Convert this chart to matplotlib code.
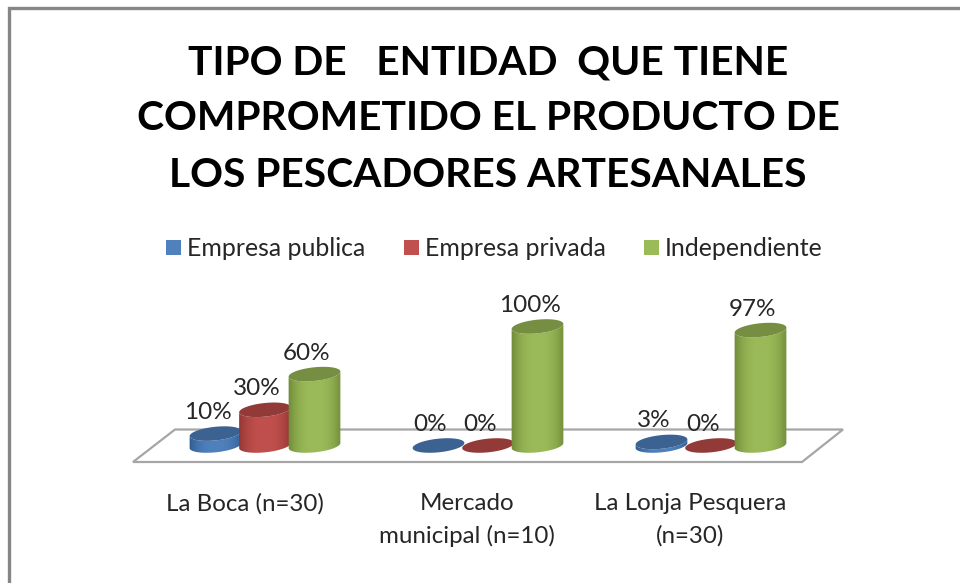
import matplotlib
matplotlib.use("Agg")
import matplotlib.pyplot as plt
from matplotlib.colors import to_rgb
from matplotlib.patches import Polygon, Rectangle
import numpy as np

plt.rcParams['font.family'] = ['Lato', 'DejaVu Sans']

title = "TIPO DE   ENTIDAD  QUE TIENE\nCOMPROMETIDO EL PRODUCTO DE\nLOS PESCADORES ARTESANALES"
categories = ["La Boca (n=30)", "Mercado\nmunicipal (n=10)", "La Lonja Pesquera\n(n=30)"]
series = ["Empresa publica", "Empresa privada", "Independiente"]
publica = [10, 0, 3]
privada = [30, 0, 0]
independiente = [60, 100, 97]
colors = ["#4f81bd", "#c0504d", "#9bbb59"]
tops = ["#3b6291", "#923a38", "#758e42"]
darks = ["#2f5a8f", "#8f3431", "#6f8a38"]

W, H = 960, 583
px_cat = 223   # pixels per category
px_val = 1.19  # pixels per percent
x0, y0 = 265, 445.5

fig = plt.figure(figsize=(W / 100, H / 100), dpi=100)
ax = fig.add_axes([0, 0, 1, 1])
ax.axis("off")


def px(x, y):
    # pixel position of the picture to data units
    return (x - x0) / px_cat, (y0 - y) / px_val


def ellipse(cx, v, t0=0, t1=2 * np.pi, a=26, b=6.8, tilt=6):
    t = np.linspace(t0, t1, 60)
    th = np.radians(tilt)
    ex = a * np.cos(t) * np.cos(th) + b * np.sin(t) * np.sin(th)
    ey = -a * np.cos(t) * np.sin(th) + b * np.sin(t) * np.cos(th)
    return np.c_[cx + ex / px_cat, v - ey / px_val]


# frame, open on the right
ax.plot(*zip(px(9.5, 583), px(9.5, 7.5), px(960, 7.5)), color="#868686", lw=2.4, solid_joinstyle="miter")

# floor
floor = [px(133, 462), px(175, 429.5), px(843, 429.5), px(802, 462)]
ax.add_patch(Polygon(floor, closed=True, fc="white", ec="#a6a6a6", lw=1.6, zorder=1))

dx = 49.5 / px_cat
for s, vals in enumerate([publica, privada, independiente]):
    for c, v in enumerate(vals):
        cx = c + (s - 1) * dx
        if v > 0:
            # side of the cylinder with a horizontal shade
            u = np.abs(np.linspace(-1, 1, 60))[None, :, None]
            grad = np.array(to_rgb(colors[s])) * (1 - u ** 2.5) + np.array(to_rgb(darks[s])) * u ** 2.5
            hw = 27 / px_cat
            im = ax.imshow(grad, extent=[cx - hw, cx + hw, -12, v + 8], aspect="auto", zorder=3 + s,
                           interpolation="bilinear")
            lower = ellipse(cx, 0, 0, np.pi)
            clip = Polygon(np.r_[lower, lower[::-1] + [0, v]], closed=True, transform=ax.transData,
                           fc="none", ec="none")
            ax.add_patch(clip)
            im.set_clip_path(clip)
        ax.add_patch(Polygon(ellipse(cx, v), closed=True, fc=tops[s], ec="none", zorder=3.5 + s))
        ax.annotate("%d%%" % v, (cx, v), xytext=(-8, 21), textcoords="offset pixels", ha="center",
                    va="center", fontsize=17.5, color="#262626", zorder=8)

ax.set_xlim(-x0 / px_cat, (W - x0) / px_cat)
ax.set_ylim((y0 - H) / px_val, y0 / px_val)

# category labels
label_x = [245, 467, 690]
for c, lab in enumerate(categories):
    ax.text(*px(label_x[c], 493.5), lab, ha="center", va="top", fontsize=17.4, color="#262626", linespacing=1.58)

# legend
leg_x = [166, 404, 644]
text_x = [187, 425, 665]
for s, name in enumerate(series):
    ax.add_patch(Rectangle(px(leg_x[s], 255), 14.5 / px_cat, 15 / px_val, fc=colors[s], ec="none"))
    ax.text(*px(text_x[s], 248), name, ha="left", va="center", fontsize=17.9, color="#262626")

# title
ax.text(*px(488, 119), title, ha="center", va="center", fontsize=29.3, fontweight="bold",
        color="black", linespacing=1.65)

fig.savefig("out.png", dpi=100)
